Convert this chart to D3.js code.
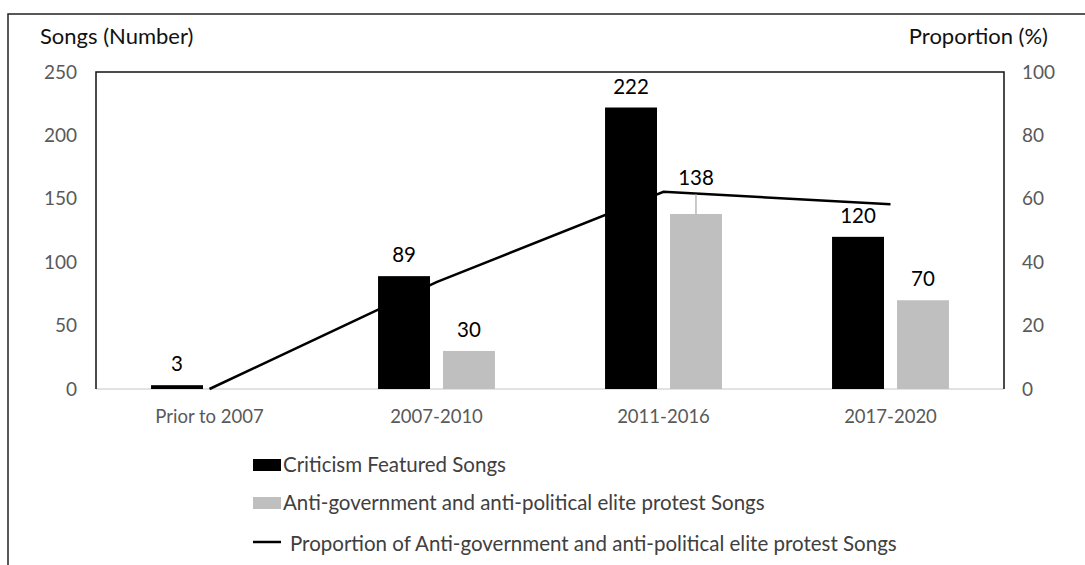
<!DOCTYPE html>
<html>
<head>
<meta charset="utf-8">
<script src="https://cdn.jsdelivr.net/npm/d3@7"></script>
<style>
  body { margin: 0; background: #fff; }
  svg { font-family: Lato, 'Open Sans', sans-serif; }
</style>
</head>
<body>
<svg width="1085" height="565"></svg>
<script>
const categories = ['Prior to 2007', '2007-2010', '2011-2016', '2017-2020'];
const criticismSongs = [3, 89, 222, 120];
const protestSongs = [0, 30, 138, 70];
const proportion = [0, 33.7, 62.2, 58.3];
const leftTicks = [0, 50, 100, 150, 200, 250];
const rightTicks = [0, 20, 40, 60, 80, 100];
const legendLabels = [
  'Criticism Featured Songs',
  'Anti-government and anti-political elite protest Songs',
  'Proportion of Anti-government and anti-political elite protest Songs'
];

const svg = d3.select('svg');
const plotLeft = 96, plotRight = 1004, plotTop = 72, plotBottom = 389;

// outer frame (left + top edges only are visible)
svg.append('path')
  .attr('d', 'M8,565 L8,14 L1085,14')
  .attr('fill', 'none')
  .attr('stroke', '#222')
  .attr('stroke-width', 1.5);

const x = d3.scaleBand()
  .domain(categories)
  .range([plotLeft, plotRight])
  .paddingInner(0.485)
  .paddingOuter(0.2425);

const xSub = d3.scaleBand()
  .domain(['crit', 'anti'])
  .range([0, x.bandwidth()])
  .paddingInner(0.2);

const y = d3.scaleLinear().domain([0, 250]).range([plotBottom, plotTop]);
const y2 = d3.scaleLinear().domain([0, 100]).range([plotBottom, plotTop]);

// plot box: black left, top, right; light gray baseline
svg.append('line')
  .attr('x1', plotLeft).attr('x2', plotRight)
  .attr('y1', plotBottom).attr('y2', plotBottom)
  .attr('stroke', '#d9d9d9').attr('stroke-width', 1.5);
svg.append('path')
  .attr('d', `M${plotLeft},${plotBottom} L${plotLeft},${plotTop} L${plotRight},${plotTop} L${plotRight},${plotBottom}`)
  .attr('fill', 'none')
  .attr('stroke', '#111')
  .attr('stroke-width', 1.5);

// tick labels
svg.append('g').selectAll('text')
  .data(leftTicks)
  .enter().append('text')
  .attr('x', 77)
  .attr('y', d => y(d))
  .attr('dy', '0.35em')
  .attr('text-anchor', 'end')
  .attr('font-size', 19)
  .attr('fill', '#595959')
  .text(d => d);

svg.append('g').selectAll('text')
  .data(rightTicks)
  .enter().append('text')
  .attr('x', 1022)
  .attr('y', d => y2(d))
  .attr('dy', '0.35em')
  .attr('text-anchor', 'start')
  .attr('font-size', 19)
  .attr('fill', '#595959')
  .text(d => d);

svg.append('g').selectAll('text')
  .data(categories)
  .enter().append('text')
  .attr('x', d => x(d) + x.bandwidth() / 2)
  .attr('y', 423)
  .attr('text-anchor', 'middle')
  .attr('font-size', 18.5)
  .attr('fill', '#595959')
  .text(d => d);

// axis titles
svg.append('text')
  .attr('x', 40).attr('y', 44)
  .attr('font-size', 22)
  .attr('fill', '#111')
  .text('Songs (Number)');
svg.append('text')
  .attr('x', 1048).attr('y', 44)
  .attr('text-anchor', 'end')
  .attr('font-size', 22)
  .attr('fill', '#111')
  .text('Proportion (%)');

// bars
const bars = svg.append('g');
bars.selectAll('rect.crit')
  .data(categories)
  .enter().append('rect')
  .attr('class', 'crit')
  .attr('x', d => x(d) + xSub('crit'))
  .attr('y', (d, i) => y(criticismSongs[i]))
  .attr('width', xSub.bandwidth())
  .attr('height', (d, i) => plotBottom - y(criticismSongs[i]))
  .attr('fill', '#000');

bars.selectAll('rect.anti')
  .data(categories.filter((d, i) => protestSongs[i] > 0))
  .enter().append('rect')
  .attr('class', 'anti')
  .attr('x', d => x(d) + xSub('anti'))
  .attr('y', d => y(protestSongs[categories.indexOf(d)]))
  .attr('width', xSub.bandwidth())
  .attr('height', d => plotBottom - y(protestSongs[categories.indexOf(d)]))
  .attr('fill', '#bfbfbf');

// proportion line
const line = d3.line()
  .x((d, i) => x(categories[i]) + x.bandwidth() / 2)
  .y(d => y2(d));
svg.append('path')
  .datum(proportion)
  .attr('d', line)
  .attr('fill', 'none')
  .attr('stroke', '#000')
  .attr('stroke-width', 2.5);

// data labels
const labels = svg.append('g')
  .attr('font-size', 20.5)
  .attr('fill', '#000')
  .attr('text-anchor', 'middle');
criticismSongs.forEach((v, i) => {
  labels.append('text')
    .attr('x', x(categories[i]) + xSub('crit') + xSub.bandwidth() / 2)
    .attr('y', y(v) - 14)
    .text(v);
});
protestSongs.forEach((v, i) => {
  if (v === 0) return;
  const cx = x(categories[i]) + xSub('anti') + xSub.bandwidth() / 2;
  // the 138 label sits above the line, with a leader line down to the bar
  const lift = v === 138 ? 15 : 0;
  if (lift) {
    svg.append('line')
      .attr('x1', cx).attr('x2', cx)
      .attr('y1', y(v) - 20).attr('y2', y(v))
      .attr('stroke', '#a6a6a6').attr('stroke-width', 1.2);
  }
  labels.append('text')
    .attr('x', cx)
    .attr('y', y(v) - 14 - lift)
    .text(v);
});

// legend
const legend = svg.append('g').attr('font-size', 20.5).attr('fill', '#404040');
const legendY = [465, 503, 544];
legend.append('rect').attr('x', 253).attr('y', legendY[0] - 6).attr('width', 28).attr('height', 12).attr('fill', '#000');
legend.append('rect').attr('x', 253).attr('y', legendY[1] - 6).attr('width', 28).attr('height', 12).attr('fill', '#bfbfbf');
legend.append('line').attr('x1', 253).attr('x2', 281).attr('y1', legendY[2] - 2).attr('y2', legendY[2] - 2)
  .attr('stroke', '#000').attr('stroke-width', 2.5);
legendLabels.forEach((t, i) => {
  legend.append('text')
    .attr('x', i === 2 ? 290 : 283)
    .attr('y', legendY[i])
    .attr('dy', '0.35em')
    .text(t);
});
</script>
</body>
</html>
